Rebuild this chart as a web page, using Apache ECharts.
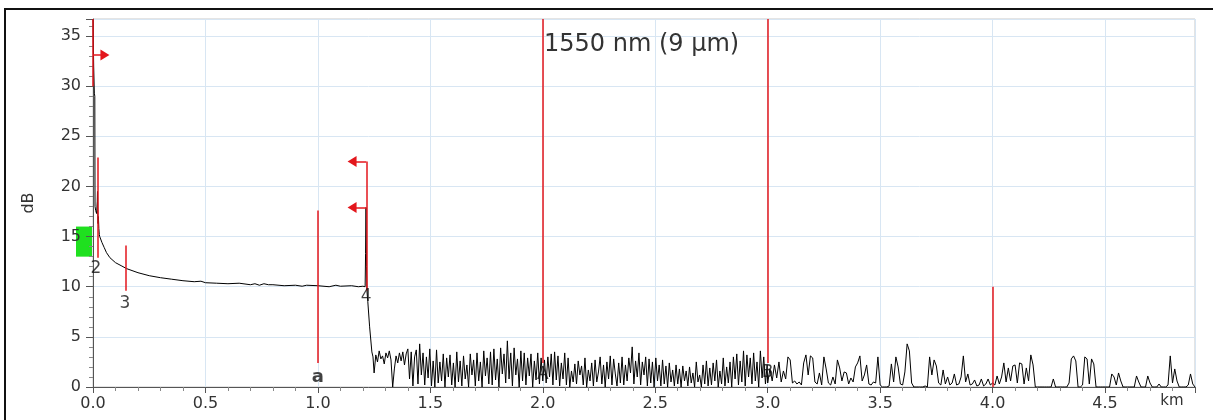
<!DOCTYPE html>
<html><head><meta charset="utf-8">
<script src="https://cdn.jsdelivr.net/npm/echarts@6/dist/echarts.min.js"></script>
<style>html,body{margin:0;padding:0;background:#fff;overflow:hidden}#c{width:1213px;height:420px}</style>
</head><body><div id="c"></div>
<script>
// ---------- DATA ----------
const titleText = '1550 nm (9 µm)';
const xAxisUnit = 'km';
const yAxisUnit = 'dB';
const xMin = 0, xMax = 4.9, xStep = 0.5;
const yMin = 0, yMax = 36.7, yStep = 5;

// trace, launch + fibre section (km, dB)
const traceKm = [0.000,0.003,0.006,0.008,0.009,0.012,0.016,0.019,0.020,0.022,0.024,0.026,0.028,0.030,0.040,0.050,0.060,0.075,0.100,0.125,0.150,0.200,0.250,0.300,0.350,0.400,0.450,0.480,0.500,0.550,0.600,0.650,0.700,0.720,0.740,0.760,0.780,0.800,0.850,0.900,0.930,0.950,1.000,1.050,1.080,1.100,1.150,1.180,1.200,1.210,1.212,1.214,1.216,1.218,1.222,1.230,1.240,1.245];
const traceDb = [36.7,32.0,29.3,29.0,18.0,17.6,17.3,18.5,19.5,16.3,17.0,15.8,15.2,15.0,14.4,13.9,13.4,12.9,12.4,12.1,11.8,11.4,11.1,10.9,10.75,10.6,10.5,10.55,10.4,10.35,10.3,10.35,10.2,10.3,10.15,10.3,10.2,10.2,10.1,10.15,10.05,10.15,10.1,10.0,10.15,10.05,10.1,10.0,10.05,10.0,13.3,17.9,12.0,9.6,8.5,6.0,3.5,3.0];

// noise floor after fibre end, sampled every 0.0075 km from 1.250 km
const noiseAStartKm = 1.25, noiseAStepKm = 0.0075;
const noiseADb = [
1.4,3.2,2.5,3.6,2.8,3.1,2.3,3.4,2.9,3.6,
2.7,0.0,1.8,3.1,2.4,3.4,2.6,3.5,2.2,3.3,
3.8,0.8,3.5,0.1,3.0,3.7,0.3,4.3,1.2,3.4,
0.2,3.0,0.9,3.8,0.1,2.6,0.0,3.7,0.4,2.5,
0.6,3.3,0.0,2.9,1.0,3.2,0.2,2.4,0.0,3.5,
0.5,2.6,0.1,3.1,0.8,2.2,0.0,3.3,1.2,2.7,
0.1,3.4,0.6,2.5,0.0,3.6,1.1,2.9,0.3,3.5,
0.2,3.8,0.7,2.8,0.0,3.9,1.3,3.3,0.4,4.6,
0.8,3.4,0.1,3.9,1.2,2.8,0.0,3.6,0.6,3.4,
0.2,2.9,1.1,3.3,0.0,2.6,0.7,3.4,0.3,2.9,
0.6,2.7,0.4,3.0,1.0,3.3,0.2,3.5,0.7,3.1,
0.1,2.4,0.8,3.4,0.2,2.9,0.0,1.6,0.5,2.3,
0.3,2.6,1.2,2.1,0.2,2.9,0.0,1.7,0.6,2.4,
0.1,2.7,0.5,1.5,3.0,0.3,2.2,0.0,2.5,0.8,
3.1,0.2,2.8,1.3,0.1,2.4,0.4,3.0,0.2,2.2,
0.6,2.9,1.4,4.0,0.3,2.6,1.0,3.4,0.2,2.5,
1.2,3.0,0.1,2.8,0.4,2.5,0.0,2.9,0.6,2.2,
0.1,2.7,0.3,2.1,0.0,2.4,0.5,1.7,0.1,2.2,
0.3,1.8,0.0,2.1,0.6,1.6,0.1,2.0,0.4,1.4,
0.0,2.5,0.5,1.2,0.0,2.2,0.3,2.6,0.1,1.9,
0.2,2.4,0.6,2.7,0.0,1.6,0.3,2.9,0.1,2.0,
0.4,2.5,0.0,3.0,0.8,3.3,0.2,2.6,0.5,3.6,
0.1,3.2,1.0,2.9,0.3,3.4,0.6,2.5,0.0,3.6,
0.9,3.0,0.3,2.2];

// noise floor, sampled every 0.01 km from 3.00 km
const noiseBStartKm = 3.0, noiseBStepKm = 0.01;
const noiseBDb = [
0.4,1.8,0.6,2.2,0.9,2.5,0.5,1.6,0.8,3.0,
2.7,0.4,0.6,0.3,0.5,0.2,2.4,3.2,1.2,3.1,
2.9,0.5,0.3,1.4,0.2,3.0,1.8,0.4,0.2,1.0,
0.3,2.7,1.9,0.6,1.5,1.4,0.3,0.9,0.5,2.0,
2.4,3.1,0.6,1.2,2.2,0.3,0.2,0.5,0.4,3.0,
0.2,0,0,0,0.1,2.3,0.5,3.0,2.0,0.3,
0.2,1.5,4.3,3.6,0.4,0,0,0,0,0,
0.1,0,3.0,1.2,2.7,2.1,0.4,0.2,1.7,0.3,
1.0,0.2,0.4,1.3,0.2,0.3,1.0,3.1,0.5,1.3,
0.2,0.3,0.7,0.1,0.2,0.8,0.1,0.3,0.8,0.2,
0.4,0.2,1.1,0.3,1.0,2.4,0.5,1.9,0.6,2.1,
2.2,0.4,2.4,2.3,0.3,1.9,0.6,3.2,2.2,0,
0,0,0,0,0,0,0,0.8,0,0,
0,0,0,0,0.4,2.8,3.1,2.6,0,0,
0.2,3.0,2.8,0.3,2.8,2.3,0,0,0,0,
0,0,0,1.3,1.0,0.2,1.4,0.6,0,0,
0,0,0,0,1.1,0.5,0,0,0,1.1,
0.4,0,0,0,0.3,0,0,0,0.2,3.1,
0.4,1.8,0.6,0,0,0,0,0.2,1.3,0.3,
0];

// event markers (red vertical lines)
const markerKm       = [0,    0.022, 0.147, 1.0,  1.215, 2.0,  3.0,  4.0];
const markerTopDb    = [36.7, 22.9,  14.1,  17.6, 22.5,  36.7, 36.7, 10.0];
const markerBottomDb = [30.0, 12.9,  9.6,   2.4,  9.6,   2.4,  2.4,  0];

// direction arrows
const arrowFromKm = [0,     1.215, 1.215];
const arrowToKm   = [0.053, 1.152, 1.152];
const arrowDb     = [33.1,  22.5,  17.9];

// marker labels
const labelText = ['2',   '3',   'a',  '4',   'A',  'B'];
const labelKm   = [0.013, 0.142, 1.0,  1.215, 2.0,  3.0];
const labelDb   = [11.8,  8.3,   1.0,  9.0,   1.2,  1.4];
const labelBold = [false, false, true, false, false, false];

// reference band on the dB axis
const bandDb = [13, 16];

// ---------- CHART ----------
const FONT = 'DejaVu Sans';
const RED = '#e3161c';
const traceData = [];
for (let i = 0; i < traceKm.length; i++) traceData.push([traceKm[i], traceDb[i]]);
for (let i = 0; i < noiseADb.length; i++) traceData.push([+(noiseAStartKm + i * noiseAStepKm).toFixed(4), noiseADb[i]]);
for (let i = 0; i < noiseBDb.length; i++) traceData.push([+(noiseBStartKm + i * noiseBStepKm).toFixed(4), noiseBDb[i]]);

const markLines = [];
for (let i = 0; i < markerKm.length; i++) {
  markLines.push([{coord: [markerKm[i], markerTopDb[i]]}, {coord: [markerKm[i], markerBottomDb[i]]}]);
}
const arrowLines = [];
for (let i = 0; i < arrowDb.length; i++) {
  arrowLines.push([{coord: [arrowFromKm[i], arrowDb[i]]}, {coord: [arrowToKm[i], arrowDb[i]]}]);
}
const labelData = labelText.map((t, i) => ({
  value: [labelKm[i], labelDb[i]],
  label: {formatter: t, fontWeight: labelBold[i] ? 'bold' : 'normal', fontSize: labelBold[i] ? 18 : 17}
}));

const isMultiple = (v, s) => Math.abs(v / s - Math.round(v / s)) < 1e-6;

const chart = echarts.init(document.getElementById('c'), null, {renderer: 'canvas'});
chart.setOption({
  animation: false,
  backgroundColor: '#fff',
  textStyle: {fontFamily: FONT},
  title: {
    text: titleText, left: 539, top: 28, padding: 5,
    textStyle: {fontFamily: FONT, fontSize: 24, fontWeight: 'normal', color: '#333'}
  },
  grid: {left: 93, right: 18, top: 19, bottom: 33, show: true, borderColor: '#c9c9c9', borderWidth: 1, containLabel: false},
  xAxis: {
    type: 'value', min: xMin, max: xMax, interval: xStep,
    axisLine: {show: true, onZero: false, lineStyle: {color: '#555', width: 1}},
    axisTick: {show: true, length: 6, lineStyle: {color: '#555'}},
    minorTick: {show: true, splitNumber: 5, length: 4, lineStyle: {color: '#888'}},
    splitLine: {show: true, lineStyle: {color: '#d8e6f3', width: 1}},
    axisLabel: {color: '#333', fontSize: 16, fontFamily: FONT, margin: 9,
      formatter: v => isMultiple(v, xStep) ? v.toFixed(1) : ''}
  },
  yAxis: {
    type: 'value', min: yMin, max: yMax, interval: yStep,
    name: yAxisUnit, nameLocation: 'middle', nameGap: 56, nameRotate: 90,
    nameTextStyle: {color: '#333', fontSize: 16, fontFamily: FONT},
    axisLine: {show: true, lineStyle: {color: '#555', width: 1}},
    axisTick: {show: true, length: 7, lineStyle: {color: '#555'}},
    minorTick: {show: true, splitNumber: 5, length: 4, lineStyle: {color: '#888'}},
    splitLine: {show: true, lineStyle: {color: '#d8e6f3', width: 1}},
    axisLabel: {color: '#333', fontSize: 16, fontFamily: FONT, margin: 12,
      formatter: v => isMultiple(v, yStep) ? String(Math.round(v)) : ''}
  },
  series: [
    {
      type: 'line', data: [], z: 2, silent: true,
      markLine: {
        silent: true, symbol: ['none', 'none'], animation: false,
        label: {show: false},
        lineStyle: {color: RED, width: 1.5, type: 'solid'},
        data: markLines
      }
    },
    {
      type: 'line', data: traceData, z: 3, silent: true,
      showSymbol: false, symbol: 'none', clip: true,
      lineStyle: {color: '#000', width: 1}
    },
    {
      type: 'line', data: [], z: 4, silent: true,
      markLine: {
        silent: true, symbol: ['none', 'triangle'], symbolSize: [11, 9], animation: false,
        label: {show: false},
        lineStyle: {color: RED, width: 1.5, type: 'solid'},
        itemStyle: {color: RED},
        data: arrowLines
      }
    },
    {
      type: 'scatter', data: labelData, z: 5, silent: true,
      symbol: 'circle', symbolSize: 1, itemStyle: {color: 'rgba(0,0,0,0)'},
      label: {show: true, position: 'inside', color: '#111', fontFamily: FONT, textBorderWidth: 0}
    }
  ]
});

// band rectangle left of the dB axis, frame and unit text
const p0 = chart.convertToPixel({gridIndex: 0}, [xMin, bandDb[1]]);
const p1 = chart.convertToPixel({gridIndex: 0}, [xMin, bandDb[0]]);
const pEnd = chart.convertToPixel({gridIndex: 0}, [xMax, yMin]);
chart.setOption({
  graphic: [
    {type: 'rect', id: 'band', z: -10, zlevel: 0, shape: {x: p0[0] - 17, y: p0[1], width: 16, height: p1[1] - p0[1]}, style: {fill: '#1fe01f'}},
    {type: 'rect', id: 'frame', z: 10, shape: {x: 5, y: 9, width: 1240, height: 440}, style: {fill: 'none', stroke: '#111', lineWidth: 2}},
    {type: 'text', id: 'unit', z: 10, x: pEnd[0] - 23, y: pEnd[1] + 14, style: {text: xAxisUnit, fill: '#333', font: '15px "DejaVu Sans"', textAlign: 'center', textVerticalAlign: 'middle'}}
  ]
});
</script>
</body></html>
